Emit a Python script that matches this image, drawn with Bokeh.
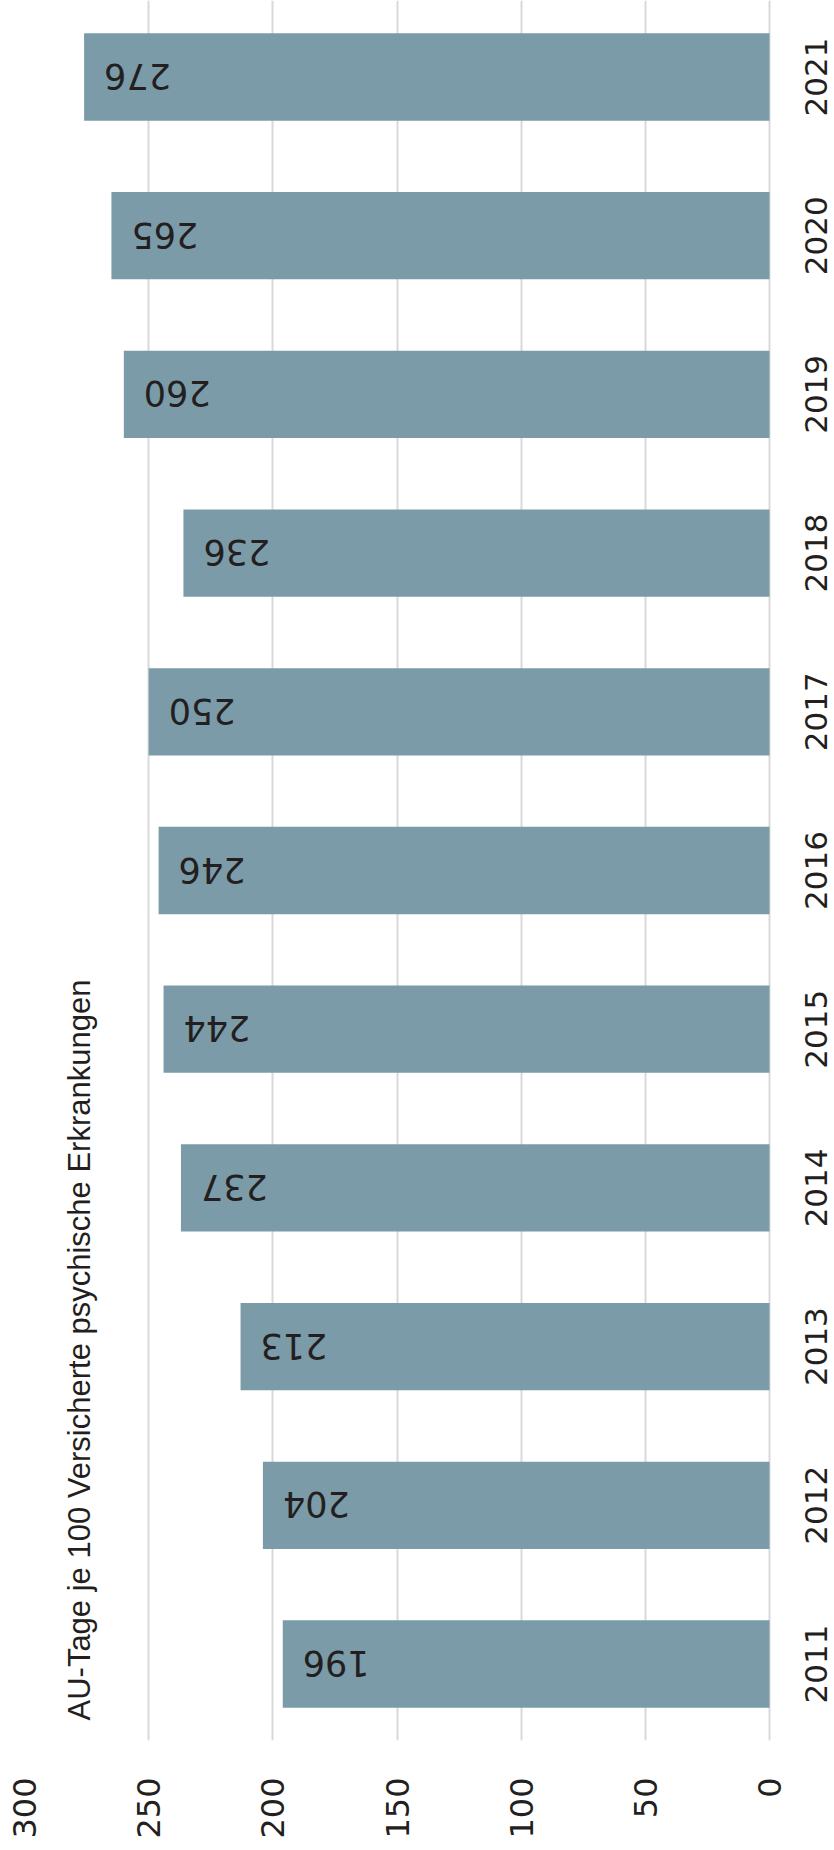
from math import pi
from bokeh.plotting import figure
from bokeh.models import FactorRange, Range1d, FixedTicker, ColumnDataSource, Label
from bokeh.core.properties import value
from bokeh.embed import file_html
from bokeh.resources import INLINE

# Data
years = ["2011", "2012", "2013", "2014", "2015", "2016", "2017", "2018", "2019", "2020", "2021"]
au_days = [196, 204, 213, 237, 244, 246, 250, 236, 260, 265, 276]
value_ticks = [0, 50, 100, 150, 200, 250, 300]
title_text = "AU-Tage je 100 Versicherte psychische Erkrankungen"

bar_color = "#7B9BA8"
text_color = "#231F20"

# layout: value axis runs right-to-left from 0 to 300; the frame continues a
# little to the right of 0 so that the year labels sit inside it
axis_max = 300
left_border = 24
value_span_px = 745
right_extra = -axis_max * (834 - left_border - value_span_px) / value_span_px

src = ColumnDataSource(dict(year=years, days=au_days, label=[str(v) for v in au_days],
                            base=[0] * len(years)))

p = figure(
    width=834, height=1850,
    output_backend="svg", toolbar_location=None,
    x_range=Range1d(axis_max, right_extra),
    y_range=FactorRange(factors=years, range_padding=-0.018, range_padding_units="absolute"),
    y_axis_location=None,
    min_border_left=left_border, min_border_right=0, min_border_top=0, min_border_bottom=110,
)
p.outline_line_color = None
p.background_fill_color = "white"
p.border_fill_color = "white"

p.hbar(y="year", left="base", right="days", height=0.55, source=src,
       fill_color=bar_color, line_color=None)

# value labels inside the bars (upside down, as in the reference)
p.text(x="days", y="year", text="label", source=src,
       angle=pi, text_align="right", text_baseline="middle", x_offset=20,
       text_font=value("DejaVu Sans"), text_font_size="35px", text_color=text_color)

# year labels to the right of the zero line, reading bottom to top
p.text(x="base", y="year", text="year", source=src,
       angle=pi / 2, text_align="center", text_baseline="middle", x_offset=46,
       text_font=value("DejaVu Sans"), text_font_size="31px", text_color=text_color)

p.add_layout(Label(x=278, y=0.144, text=title_text, angle=pi / 2,
                   text_align="left", text_baseline="middle",
                   text_font="Liberation Sans", text_font_size="31px",
                   text_color=text_color))

# x axis (values)
p.xaxis.ticker = FixedTicker(ticks=value_ticks)
p.xaxis.major_label_orientation = pi / 2
p.xaxis.major_label_text_font = "DejaVu Sans"
p.xaxis.major_label_text_font_size = "32px"
p.xaxis.major_label_text_color = text_color
p.xaxis.major_label_standoff = 37
p.xaxis.major_tick_in = 0
p.xaxis.major_tick_out = 0
p.xaxis.axis_line_color = None
p.xaxis.major_tick_line_color = None
p.xaxis.minor_tick_line_color = None

p.xgrid.grid_line_color = "#D9D9D9"
p.xgrid.grid_line_width = 2
p.ygrid.grid_line_color = None

open("out.html", "w").write(file_html(p, INLINE))
